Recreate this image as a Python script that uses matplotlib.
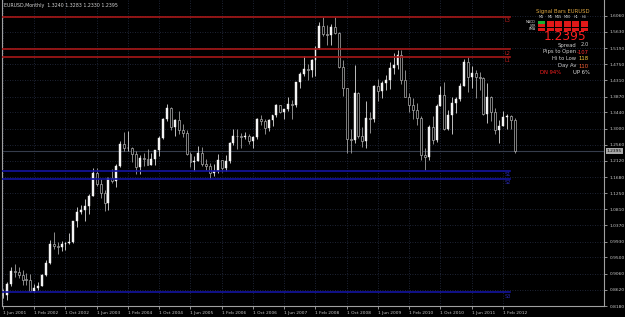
import numpy as np
import matplotlib
matplotlib.use("Agg")
import matplotlib.pyplot as plt
from matplotlib.patches import Rectangle

# EURUSD monthly bars, Jun 2001 .. May 2012
opens = [0.8475, 0.8490, 0.8775, 0.9125, 0.9110, 0.9010, 0.8900,
         0.8895, 0.8600, 0.8680, 0.8720, 0.9020, 0.9350, 0.9870, 0.9800, 0.9780, 0.9860, 0.9880, 0.9930,
         1.0490, 1.0730, 1.0790, 1.0910, 1.1170, 1.1800, 1.1490, 1.1240, 1.0990, 1.1650, 1.1580, 1.1990,
         1.2595, 1.2470, 1.2480, 1.2300, 1.1960, 1.2200, 1.2180, 1.2020, 1.2170, 1.2420, 1.2750, 1.3260,
         1.3570, 1.3040, 1.3230, 1.2960, 1.2870, 1.2300, 1.2100, 1.2120, 1.2350, 1.2030, 1.1990, 1.1790,
         1.1840, 1.2150, 1.1920, 1.2120, 1.2620, 1.2810, 1.2790, 1.2760, 1.2810, 1.2670, 1.2760, 1.3250,
         1.3200, 1.3020, 1.3240, 1.3360, 1.3650, 1.3450, 1.3530, 1.3680, 1.3640, 1.4260, 1.4480, 1.4630,
         1.4590, 1.4860, 1.5180, 1.5790, 1.5580, 1.5550, 1.5760, 1.5600, 1.4680, 1.4090, 1.2730, 1.2690,
         1.3970, 1.2800, 1.2670, 1.3280, 1.3250, 1.4150, 1.4030, 1.4240, 1.4330, 1.4640, 1.4720, 1.5000,
         1.4330, 1.3860, 1.3630, 1.3510, 1.3290, 1.2270, 1.2240, 1.3050, 1.2680, 1.3620, 1.3920, 1.3000,
         1.3380, 1.3690, 1.3800, 1.4160, 1.4810, 1.4390, 1.4500, 1.4390, 1.4380, 1.3390, 1.3850, 1.3450,
         1.2960, 1.3080, 1.3320, 1.3340, 1.3240]
highs = [0.8655, 0.8830, 0.9230, 0.9310, 0.9240, 0.9150, 0.9065,
         0.9040, 0.8785, 0.8840, 0.9060, 0.9440, 0.9970, 1.0195, 0.9920, 0.9950, 0.9930, 1.0150, 1.0500,
         1.0860, 1.0935, 1.1080, 1.1220, 1.1930, 1.1930, 1.1620, 1.1340, 1.1670, 1.1890, 1.2050, 1.2650,
         1.2900, 1.2930, 1.2500, 1.2380, 1.2280, 1.2330, 1.2440, 1.2350, 1.2430, 1.2800, 1.3300, 1.3665,
         1.3600, 1.3270, 1.3480, 1.3120, 1.2960, 1.2370, 1.2250, 1.2530, 1.2500, 1.2170, 1.2060, 1.2040,
         1.2320, 1.2150, 1.2290, 1.2640, 1.2980, 1.2980, 1.2890, 1.2910, 1.2850, 1.2790, 1.3290, 1.3370,
         1.3270, 1.3250, 1.3370, 1.3680, 1.3650, 1.3530, 1.3850, 1.3790, 1.4280, 1.4530, 1.4970, 1.4750,
         1.4900, 1.5240, 1.5900, 1.6020, 1.5820, 1.5840, 1.6040, 1.5620, 1.4870, 1.4100, 1.3000, 1.4720,
         1.4000, 1.3050, 1.3740, 1.3460, 1.4180, 1.4340, 1.4300, 1.4450, 1.4800, 1.5060, 1.5140, 1.5140,
         1.4580, 1.3960, 1.3820, 1.3690, 1.3330, 1.2470, 1.3100, 1.3330, 1.3680, 1.4160, 1.4280, 1.3500,
         1.3870, 1.3860, 1.4250, 1.4880, 1.4940, 1.4700, 1.4580, 1.4550, 1.4410, 1.4250, 1.3880, 1.3550,
         1.3230, 1.3490, 1.3390, 1.3380, 1.3280]
lows = [0.8405, 0.8350, 0.8710, 0.8965, 0.8945, 0.8750, 0.8760,
        0.8560, 0.8565, 0.8620, 0.8710, 0.9000, 0.9320, 0.9720, 0.9590, 0.9685, 0.9700, 0.9860, 0.9890,
        1.0330, 1.0690, 1.0500, 1.0690, 1.1160, 1.1430, 1.1110, 1.0760, 1.0780, 1.1520, 1.1400, 1.1960,
        1.2395, 1.2380, 1.2085, 1.1760, 1.1760, 1.1990, 1.2020, 1.2000, 1.2000, 1.2250, 1.2730, 1.3200,
        1.2950, 1.2800, 1.2850, 1.2770, 1.2290, 1.1950, 1.1860, 1.2110, 1.1990, 1.1870, 1.1640, 1.1720,
        1.1800, 1.1830, 1.1860, 1.2070, 1.2560, 1.2450, 1.2460, 1.2710, 1.2590, 1.2480, 1.2730, 1.3100,
        1.2860, 1.2930, 1.3070, 1.3320, 1.3420, 1.3260, 1.3470, 1.3260, 1.3600, 1.4090, 1.4430, 1.4330,
        1.4390, 1.4440, 1.5150, 1.5520, 1.5280, 1.5280, 1.5560, 1.4640, 1.3880, 1.2330, 1.2330, 1.2620,
        1.2750, 1.2510, 1.2460, 1.2880, 1.3180, 1.3740, 1.3840, 1.4050, 1.4080, 1.4490, 1.4630, 1.4220,
        1.3860, 1.3440, 1.3270, 1.3110, 1.2140, 1.1880, 1.2150, 1.2590, 1.2640, 1.3610, 1.2970, 1.2970,
        1.2860, 1.3430, 1.3740, 1.4150, 1.4000, 1.4090, 1.3840, 1.4050, 1.3360, 1.3150, 1.3210, 1.2860,
        1.2620, 1.3070, 1.3000, 1.2990, 1.2330]
closes = [0.8490, 0.8775, 0.9125, 0.9110, 0.9010, 0.8900, 0.8895,
          0.8600, 0.8680, 0.8720, 0.9020, 0.9350, 0.9870, 0.9800, 0.9780, 0.9860, 0.9880, 0.9930, 1.0490,
          1.0730, 1.0790, 1.0910, 1.1170, 1.1800, 1.1490, 1.1240, 1.0990, 1.1650, 1.1580, 1.1990, 1.2595,
          1.2470, 1.2480, 1.2300, 1.1960, 1.2200, 1.2180, 1.2020, 1.2170, 1.2420, 1.2750, 1.3260, 1.3570,
          1.3040, 1.3230, 1.2960, 1.2870, 1.2300, 1.2100, 1.2120, 1.2350, 1.2030, 1.1990, 1.1790, 1.1840,
          1.2150, 1.1920, 1.2120, 1.2620, 1.2810, 1.2790, 1.2760, 1.2810, 1.2670, 1.2760, 1.3250, 1.3200,
          1.3020, 1.3240, 1.3360, 1.3650, 1.3450, 1.3530, 1.3680, 1.3640, 1.4260, 1.4480, 1.4630, 1.4590,
          1.4860, 1.5180, 1.5790, 1.5580, 1.5550, 1.5760, 1.5600, 1.4680, 1.4090, 1.2730, 1.2690, 1.3970,
          1.2800, 1.2670, 1.3280, 1.3250, 1.4150, 1.4030, 1.4240, 1.4330, 1.4640, 1.4720, 1.5000, 1.4330,
          1.3860, 1.3630, 1.3510, 1.3290, 1.2270, 1.2240, 1.3050, 1.2680, 1.3620, 1.3920, 1.3000, 1.3380,
          1.3690, 1.3800, 1.4160, 1.4810, 1.4390, 1.4500, 1.4390, 1.4380, 1.3390, 1.3850, 1.3450, 1.2960,
          1.3080, 1.3320, 1.3340, 1.3240, 1.2395]

date_labels = ["1 Jun 2001", "1 Feb 2002", "1 Oct 2002", "1 Jun 2003", "1 Feb 2004", "1 Oct 2004",
               "1 Jun 2005", "1 Feb 2006", "1 Oct 2006", "1 Jun 2007", "1 Feb 2008", "1 Oct 2008",
               "1 Jun 2009", "1 Feb 2010", "1 Oct 2010", "1 Jun 2011", "1 Feb 2012"]
date_pos = [0, 8, 16, 24, 32, 40, 48, 56, 64, 72, 80, 88, 96, 104, 112, 120, 128]
price_ticks = [0.8180, 0.8620, 0.9060, 0.9500, 0.9930, 1.0370, 1.0810, 1.1250, 1.1680, 1.2120,
               1.2560, 1.3000, 1.3440, 1.3870, 1.4310, 1.4750, 1.5190, 1.5630, 1.6060]

res_levels = [1.6035, 1.5155, 1.4946]
res_names = ["L3", "L2", "L1"]
sup_levels = [1.1856, 1.1639, 0.8547]
sup_names = ["S1", "S2", "S3"]
last_price = 1.2395

W, H = 625, 317
fig = plt.figure(figsize=(W / 100, H / 100), dpi=100, facecolor="black")

def fx(px):
    return px / W

def fy(py):
    return 1 - py / H

ax = fig.add_axes([fx(2), fy(306), fx(604) - fx(2), fy(0) - fy(306)])
ax.set_facecolor("black")

step = 3.906
ax.set_xlim(-1 / step, -1 / step + 602 / step)
ax.set_ylim(0.818, 0.818 + 306 * 0.0027172)

gridc = "#283046"
for p in price_ticks:
    ax.axhline(p, color=gridc, lw=0.6, ls=(0, (1, 2)), zorder=0)
for d in date_pos:
    ax.axvline(d, color=gridc, lw=0.6, ls=(0, (1, 2)), zorder=0)

ax.axhline(last_price, color="#363d4c", lw=0.8, zorder=1)

x = np.arange(len(opens))
o = np.array(opens)
c = np.array(closes)
up = c >= o
wick_col = np.where(up, "#f0f0f0", "#b0b0b0")
ax.vlines(x, lows, highs, colors=wick_col, lw=0.55, zorder=2)
body_lo = np.minimum(o, c)
body_h = np.maximum(np.abs(c - o), 0.0012)
ax.bar(x[up], body_h[up], bottom=body_lo[up], width=0.5, color="#f4f4f4",
       edgecolor="#f4f4f4", lw=0.3, zorder=3)
ax.bar(x[~up], body_h[~up], bottom=body_lo[~up], width=0.5, color="black",
       edgecolor="#b0b0b0", lw=0.5, zorder=3)

line_end = (510 - 2) / 602
for lvl, nm in zip(res_levels, res_names):
    ax.axhline(lvl, xmin=0, xmax=line_end, color="#a81818", lw=1.2, zorder=4)
    ax.text(128.4, lvl - 0.004, nm, color="#c02020", fontsize=3.6, va="top", ha="left", zorder=5)
for lvl, nm in zip(sup_levels, sup_names):
    ax.axhline(lvl, xmin=0, xmax=line_end, color="#1414a0", lw=1.2, zorder=4)
    ax.text(128.4, lvl - 0.004, nm, color="#2828b0", fontsize=3.6, va="top", ha="left", zorder=5)

ax.spines["top"].set_visible(False)
for s in ["left", "right", "bottom"]:
    ax.spines[s].set_color("#a0a0a0")
    ax.spines[s].set_linewidth(0.8)

ax.yaxis.tick_right()
ax.set_yticks(price_ticks)
ax.set_yticklabels(["%.4f" % p for p in price_ticks])
ax.tick_params(axis="y", colors="#c8c8c8", labelsize=3.2, length=2, width=0.5, pad=2)
ax.set_xticks(date_pos)
ax.set_xticklabels(date_labels, ha="left")
ax.tick_params(axis="x", colors="#c8c8c8", labelsize=3.2, length=2, width=0.5, pad=1.5)

# title
fig.text(fx(4), fy(6), "EURUSD,Monthly  1.3240 1.3283 1.2330 1.2395", color="#d0d0d0",
         fontsize=3.4, va="center", ha="left")

# last price tag
fig.text(fx(607), fy(151), "%.4f" % last_price, color="black", fontsize=3.2, va="center", ha="left",
         bbox=dict(boxstyle="square,pad=0.15", fc="#a8a8a8", ec="none"))

# signal bars panel
fig.text(fx(563), fy(11), "Signal Bars EURUSD", color="#e0a840", fontsize=3.8, ha="center", va="center")
tfs = ["M1", "M5", "M15", "M30", "H1", "H4"]
col_x = [538, 546.5, 555, 563.5, 572, 580.5]
for t, cx in zip(tfs, col_x):
    fig.text(fx(cx + 3.5), fy(17.5), t, color="#d8d8d8", fontsize=2.4, ha="center", va="center")
rows = ["MACD", "STR", "EMA"]
row_y = [20.7, 24.2, 27.7]
for r, ry in zip(rows, row_y):
    fig.text(fx(536), fy(ry + 1.5), r, color="#d8d8d8", fontsize=2.3, ha="right", va="center")
    for j, cx in zip(range(6), col_x):
        col = "#18b030" if (r == "MACD" and j == 0) else "#e01818"
        fig.patches.append(Rectangle((fx(cx), fy(ry + 3)), fx(7), 3 / H, transform=fig.transFigure,
                                     fc=col, ec="none"))

fig.text(fx(565), fy(36.5), "1.2395", color="#ff2020", fontsize=8.8, ha="center", va="center")
labs = ["Spread", "Pips to Open", "Hi to Low", "Day Av"]
vals = ["2.0", "-107", "118", "110"]
vcols = ["#c8c8c8", "#ff3030", "#ffd040", "#ff6030"]
ys = [45, 52, 59, 66]
for lb, v, vc, yy in zip(labs, vals, vcols, ys):
    fig.text(fx(576), fy(yy), lb, color="#d0d0d0", fontsize=3.8, ha="right", va="center")
    fig.text(fx(589), fy(yy), v, color=vc, fontsize=3.8, ha="right", va="center")
fig.text(fx(540), fy(73), "DN 94%", color="#ff2020", fontsize=3.8, ha="left", va="center")
fig.text(fx(590), fy(73), "UP 6%", color="#e0e0e0", fontsize=3.8, ha="right", va="center")

fig.savefig("out.png", dpi=100, facecolor="black")
